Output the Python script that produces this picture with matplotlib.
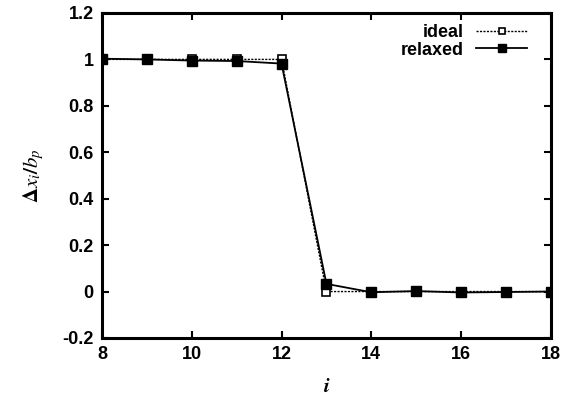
import matplotlib
matplotlib.use('Agg')
import matplotlib.pyplot as plt

plt.rcParams['font.family'] = 'Liberation Sans'
plt.rcParams['mathtext.fontset'] = 'stix'

i_vals = [8, 9, 10, 11, 12, 13, 14, 15, 16, 17, 18]
ideal = [1.0, 1.0, 1.0, 1.0, 1.0, 0.0, 0.0, 0.0, 0.0, 0.0, 0.0]
relaxed = [1.003, 1.0, 0.995, 0.993, 0.982, 0.033, -0.003, 0.002, -0.004, -0.002, 0.0]

fig = plt.figure(figsize=(5.74, 3.98), dpi=100)
ax = fig.add_axes([0.1777, 0.1508, 0.782, 0.8166])

ax.plot(i_vals, ideal, linestyle=(0, (1.5, 1)), color='black', lw=1.0,
        marker='s', markersize=5.5, markerfacecolor='white', markeredgecolor='black',
        markeredgewidth=1.2, label='ideal')
ax.plot(i_vals, relaxed, linestyle='-', color='black', lw=1.3,
        marker='s', markersize=6.5, markerfacecolor='black', markeredgecolor='black',
        label='relaxed')

ax.set_xlim(8, 18)
ax.set_ylim(-0.2, 1.2)
ax.set_xticks([8, 10, 12, 14, 16, 18])
ax.set_yticks([-0.2, 0, 0.2, 0.4, 0.6, 0.8, 1.0, 1.2])
ax.set_yticklabels(['-0.2', '0', '0.2', '0.4', '0.6', '0.8', '1', '1.2'])
ax.tick_params(direction='in', length=5, width=1.5, top=True, right=True,
               labelsize=13, pad=6)
for lab in ax.get_xticklabels() + ax.get_yticklabels():
    lab.set_fontweight('semibold')
for s in ax.spines.values():
    s.set_linewidth(2.2)

ax.set_xlabel(r'$\boldsymbol{i}$', fontsize=15, labelpad=10)
ax.set_ylabel(r'$\boldsymbol{\Delta x_i/b_p}$', fontsize=15, labelpad=12)

leg = ax.legend(loc='upper right', bbox_to_anchor=(0.918, 0.94),
                bbox_transform=fig.transFigure, frameon=False, markerfirst=False,
                fontsize=13, handlelength=2.8, borderaxespad=0, borderpad=0,
                labelspacing=0.05, handletextpad=0.7, markerscale=0.85)
for t in leg.get_texts():
    t.set_fontweight('semibold')

fig.savefig('out.png', dpi=100)
